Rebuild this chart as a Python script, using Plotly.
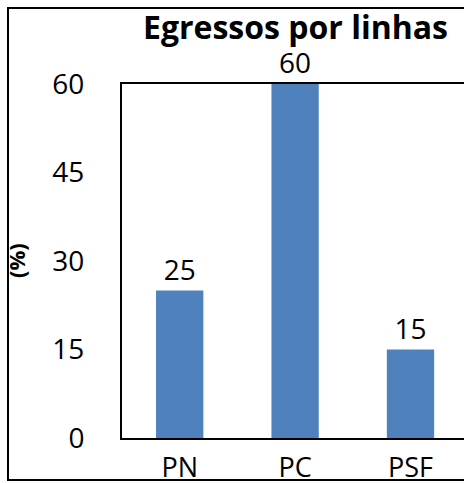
import plotly.graph_objects as go

# data
linhas = ['PN', 'PC', 'PSF']
egressos_pct = [25, 60, 15]
y_ticks = [0, 15, 30, 45, 60]

blue = '#4F81BD'
font_main = 'Open Sans'

W, H = 464, 483
L, R, T, B = 122, 0, 84, 45
pw, ph = W - L - R, H - T - B


def px_x(px):
    return (px - L) / pw


def px_y(py):
    return (H - B - py) / ph


fig = go.Figure()
fig.add_trace(go.Bar(x=linhas, y=egressos_pct, marker=dict(color=blue, line=dict(width=0)),
                     width=0.41, text=[str(v) for v in egressos_pct], textposition='outside',
                     textfont=dict(size=28, color='black', family=font_main),
                     cliponaxis=False, showlegend=False))

fig.update_layout(
    width=W, height=H,
    margin=dict(l=L, r=R, t=T, b=B),
    plot_bgcolor='white', paper_bgcolor='white',
    font=dict(family=font_main, color='black'),
    xaxis=dict(range=[-0.5, -0.5 + pw / 115.4], showline=True, linecolor='black', linewidth=2,
               mirror=True, ticks='', showgrid=False, zeroline=False, automargin=False,
               tickfont=dict(size=27), ticklabelstandoff=5),
    yaxis=dict(range=[0, 60], tickvals=y_ticks, showline=True, linecolor='black', linewidth=2,
               ticks='', showgrid=False, zeroline=False, automargin=False,
               tickfont=dict(size=28), ticklabelstandoff=30),
    bargap=0.6,
)

# outer chart border (right side runs off the picture)
fig.add_shape(type='rect', xref='paper', yref='paper',
              x0=px_x(8), x1=1.3, y0=px_y(480), y1=px_y(8),
              line=dict(color='black', width=2), layer='below')

fig.add_annotation(text='<b>Egressos por linhas</b>', xref='paper', yref='paper',
                   x=px_x(295), y=px_y(27), xanchor='center', yanchor='middle',
                   showarrow=False, font=dict(size=32, family=font_main))
fig.add_annotation(text='<b>(%)</b>', xref='paper', yref='paper', textangle=-90,
                   x=px_x(16), y=px_y(261), xanchor='center', yanchor='middle',
                   showarrow=False, font=dict(size=22, family=font_main))

fig.write_html('out.html', config={'displayModeBar': False},
               post_script="document.body.style.margin='0px';")
